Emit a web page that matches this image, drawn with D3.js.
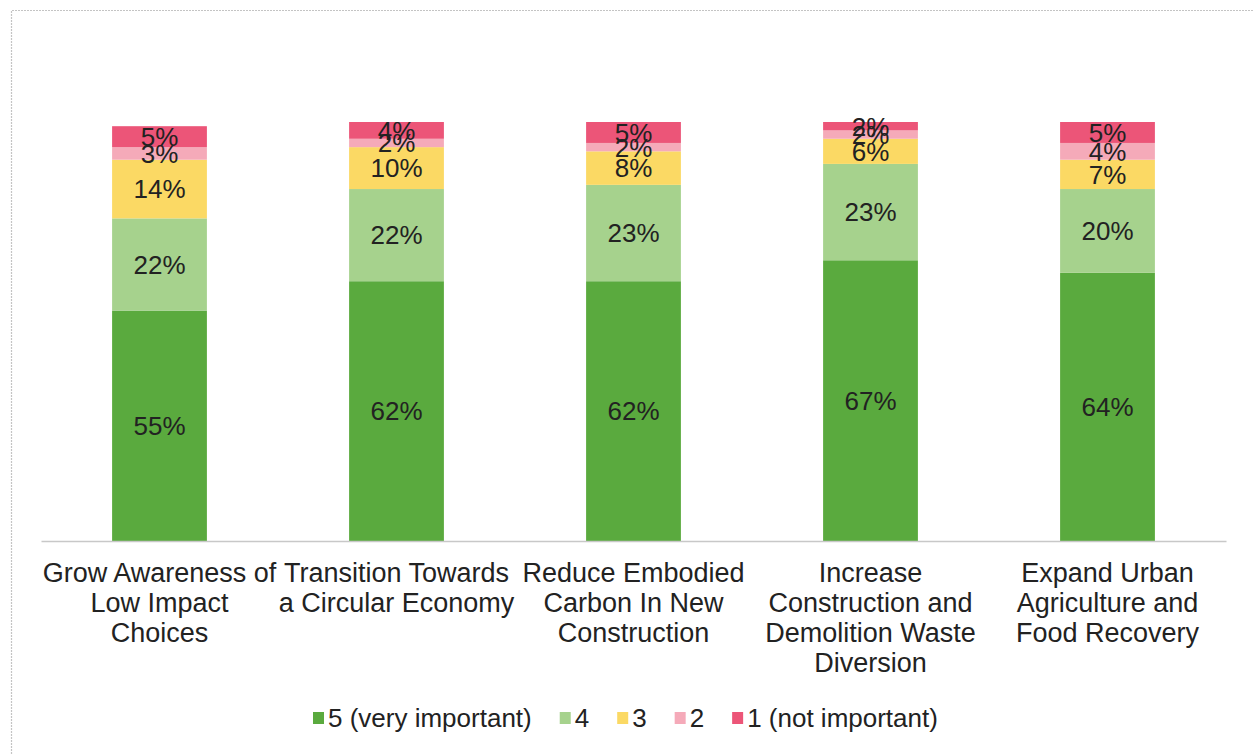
<!DOCTYPE html>
<html>
<head>
<meta charset="utf-8">
<script src="https://cdn.jsdelivr.net/npm/d3@7"></script>
<style>
  html, body { margin: 0; padding: 0; background: #ffffff; }
  svg { display: block; font-family: "Liberation Sans", Arial, sans-serif; }
</style>
</head>
<body>
<svg id="chart" width="1254" height="755"></svg>
<script>
// Categories (each split into the lines shown under the axis)
const categories = [
  "Grow Awareness of Low Impact Choices",
  "Transition Towards a Circular Economy",
  "Reduce Embodied Carbon In New Construction",
  "Increase Construction and Demolition Waste Diversion",
  "Expand Urban Agriculture and Food Recovery"
];
const categoryLines = [
  ["Grow Awareness of", "Low Impact", "Choices"],
  ["Transition Towards", "a Circular Economy"],
  ["Reduce Embodied", "Carbon In New", "Construction"],
  ["Increase", "Construction and", "Demolition Waste", "Diversion"],
  ["Expand Urban", "Agriculture and", "Food Recovery"]
];

// Share of responses per rating (percent), in category order
const rating5 = [55, 62, 62, 67, 64];
const rating4 = [22, 22, 23, 23, 20];
const rating3 = [14, 10, 8, 6, 7];
const rating2 = [3, 2, 2, 2, 4];
const rating1 = [5, 4, 5, 2, 5];

const seriesKeys = ["r5", "r4", "r3", "r2", "r1"];
const seriesNames = ["5 (very important)", "4", "3", "2", "1 (not important)"];
const seriesColors = ["#5aaa3e", "#a6d28d", "#fbd964", "#f5aab9", "#ec5578"];

const rows = categories.map((c, i) => ({
  cat: c,
  r5: rating5[i], r4: rating4[i], r3: rating3[i], r2: rating2[i], r1: rating1[i]
}));

const svg = d3.select("#chart");

// Outer frame of the chart area
svg.append("path")
  .attr("d", "M11.5,760 L11.5,10.5 L1260,10.5")
  .attr("fill", "none")
  .attr("stroke", "#c4c4c4")
  .attr("stroke-width", 1.2)
  .attr("stroke-dasharray", "2,1");

const x = d3.scaleBand()
  .domain(categories)
  .range([41, 1226])
  .paddingInner(0.6)
  .paddingOuter(0.3);

const y = d3.scaleLinear()
  .domain([0, 100])
  .range([541, 122]);

const stack = d3.stack().keys(seriesKeys);
const layers = stack(rows);

const g = svg.append("g");

layers.forEach((layer, li) => {
  g.append("g")
    .selectAll("rect")
    .data(layer)
    .join("rect")
    .attr("x", d => x(d.data.cat))
    .attr("width", x.bandwidth())
    .attr("y", d => y(d[1]))
    .attr("height", d => y(d[0]) - y(d[1]))
    .attr("fill", seriesColors[li]);
});

// Value labels centred in each segment
layers.forEach((layer, li) => {
  g.append("g")
    .selectAll("text")
    .data(layer)
    .join("text")
    .attr("x", d => x(d.data.cat) + x.bandwidth() / 2)
    .attr("y", d => (y(d[0]) + y(d[1])) / 2)
    .attr("dy", "0.36em")
    .attr("text-anchor", "middle")
    .attr("font-size", 26)
    .attr("fill", "#222222")
    .text(d => (d[1] - d[0]) + "%");
});

// Category axis
const xAxis = d3.axisBottom(x).tickSize(0).tickFormat("");
const axisG = svg.append("g")
  .attr("transform", `translate(0,${y(0)})`)
  .call(xAxis);
axisG.select(".domain")
  .attr("stroke", "#c8c8c8")
  .attr("stroke-width", 1.3);

axisG.selectAll(".tick").each(function(d, i) {
  const t = d3.select(this).append("text")
    .attr("text-anchor", "middle")
    .attr("font-size", 27)
    .attr("fill", "#222222");
  categoryLines[i].forEach((line, k) => {
    t.append("tspan")
      .attr("x", 0)
      .attr("y", 41 + k * 30)
      .text(line);
  });
});

// Legend: items laid out left to right with a fixed gap
const legend = svg.append("g").attr("transform", "translate(313,718)");
let cursor = 0;
seriesNames.forEach((name, i) => {
  const item = legend.append("g").attr("transform", `translate(${cursor},0)`);
  item.append("rect")
    .attr("x", 0).attr("y", -6)
    .attr("width", 11).attr("height", 12)
    .attr("fill", seriesColors[i]);
  const label = item.append("text")
    .attr("x", 15)
    .attr("y", 0)
    .attr("dy", "0.36em")
    .attr("font-size", 26)
    .attr("fill", "#222222")
    .text(name);
  cursor += 15 + label.node().getComputedTextLength() + 28;
});
</script>
</body>
</html>
